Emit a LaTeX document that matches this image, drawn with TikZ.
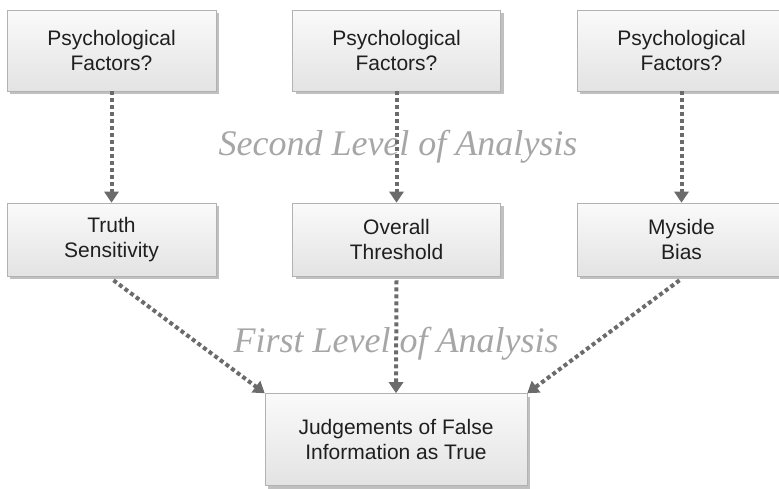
\documentclass[tikz,border=0pt]{standalone}
\usepackage{fontspec}
\setmainfont{Liberation Sans}
\newfontfamily\serifit{Liberation Serif}
\usetikzlibrary{arrows.meta,shadows}
\begin{document}
\begin{tikzpicture}[x=1pt,y=-1pt,
 box/.style={draw=black!30, line width=0.6pt, top color=black!2, bottom color=black!11,
   text=black!88, font=\fontsize{21}{25}\selectfont, align=center, inner sep=0pt,
   drop shadow={shadow xshift=3pt, shadow yshift=-3pt, fill=black!45, opacity=0.55}},
 conn/.style={draw=black!58, line width=4pt, dash pattern=on 4pt off 3pt,
   -{Triangle[width=14pt,length=11pt]}},
 lvl/.style={text=black!35, font=\serifit\itshape\fontsize{36}{40}\selectfont, inner sep=0pt}
]
\useasboundingbox (0,0) rectangle (779,488);
\begin{scope}
\clip (0,0) rectangle (779,488);
\node[box, minimum width=209pt, minimum height=81pt] (p1) at (111.5,50.5) {Psychological\\Factors?};
\node[box, minimum width=208pt, minimum height=81pt] (p2) at (396.5,50.5) {Psychological\\Factors?};
\node[box, minimum width=209pt, minimum height=81pt] (p3) at (681.5,50.5) {Psychological\\Factors?};
\node[box, minimum width=209pt, minimum height=73pt] (t1) at (111.5,239.5) {Truth\\Sensitivity};
\node[box, minimum width=208pt, minimum height=73pt] (t2) at (396.5,239.5) {Overall\\Threshold};
\node[box, minimum width=209pt, minimum height=73pt] (t3) at (681.5,239.5) {Myside\\Bias};
\node[box, minimum width=262pt, minimum height=92pt] (j) at (396,439.5) {Judgements of False\\Information as True};
\node[lvl, anchor=base] (l2) at (398,155) {Second Level of Analysis};
\node[lvl, anchor=base] (l1) at (396,352) {First Level of Analysis};
\draw[conn] (p1.south) -- (t1.north);
\draw[conn] (p2.south) -- (t2.north);
\draw[conn] (p3.south) -- (t3.north);
\draw[conn] ([xshift=2pt,yshift=-4pt]t1.south) -- (j.north west);
\draw[conn] ([yshift=-4pt]t2.south) -- (j.north);
\draw[conn] ([xshift=-2pt,yshift=-4pt]t3.south) -- (j.north east);
\end{scope}
\end{tikzpicture}
\end{document}
